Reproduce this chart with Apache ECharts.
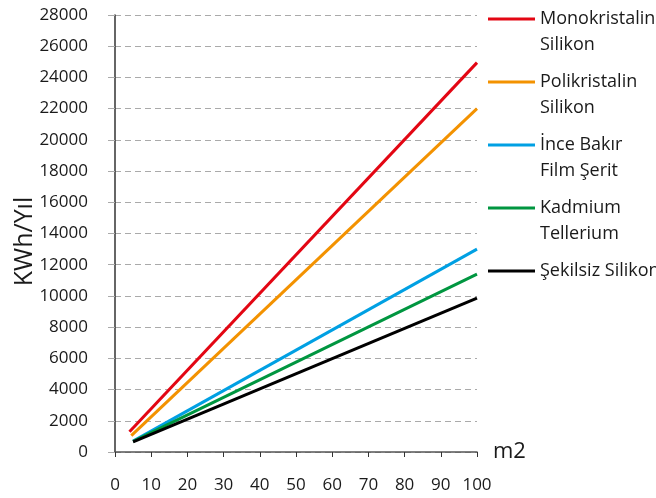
<!DOCTYPE html>
<html>
<head>
<meta charset="utf-8">
<style>
  html, body { margin: 0; padding: 0; background: #ffffff; }
  #chart { width: 656px; height: 498px; }
</style>
<script src="https://cdn.jsdelivr.net/npm/echarts@6/dist/echarts.min.js"></script>
</head>
<body>
<div id="chart"></div>
<script>
// Annual energy yield (KWh/Yıl) versus panel area (m2) for five cell technologies
const seriesNames = [
  'Monokristalin\nSilikon',
  'Polikristalin\nSilikon',
  'İnce Bakır\nFilm Şerit',
  'Kadmium\nTellerium',
  'Şekilsiz Silikon'
];
const seriesColors = ['#e30613', '#f39200', '#00a0e3', '#009640', '#000000'];

// start and end area (m2) of each line
const monoArea = [4, 100];
const poliArea = [4.5, 100];
const inceArea = [5, 100];
const kadmArea = [5, 100];
const sekilArea = [5, 100];

// yield (KWh/Yıl) at those areas
const monoYield = [1300, 24950];
const poliYield = [1050, 22000];
const inceYield = [700, 13000];
const kadmYield = [680, 11400];
const sekilYield = [650, 9860];

const xTicks = [0, 10, 20, 30, 40, 50, 60, 70, 80, 90, 100];
const yTicks = [0, 2000, 4000, 6000, 8000, 10000, 12000, 14000, 16000, 18000, 20000, 22000, 24000, 26000, 28000];

const areas = [monoArea, poliArea, inceArea, kadmArea, sekilArea];
const yields = [monoYield, poliYield, inceYield, kadmYield, sekilYield];

const FONT = '"Open Sans", "Noto Sans", sans-serif';
const TEXT = '#1a1a1a';
const LINE_H = 26;

const chart = echarts.init(document.getElementById('chart'), null, { renderer: 'canvas' });

const series = seriesNames.map((name, i) => ({
  name: name,
  type: 'line',
  symbol: 'none',
  silent: true,
  lineStyle: { color: seriesColors[i], width: 3 },
  itemStyle: { color: seriesColors[i] },
  data: areas[i].map((a, k) => [a, yields[i][k]])
}));

// Every legend entry is laid out as three text rows so that the swatch
// (centred on the block) sits beside the first visible row.
function legendText(name) {
  const rows = name.split('\n');
  if (rows.length === 1) rows.push(' ');
  return ' \n' + rows.join('\n');
}

chart.setOption({
  animation: false,
  textStyle: { fontFamily: FONT },
  grid: {
    left: 115, right: 179, top: 15, bottom: 46,
    containLabel: false,
    outerBoundsMode: 'none'
  },
  legend: {
    orient: 'vertical',
    left: 483,
    top: -25,
    itemWidth: 47,
    itemHeight: 3,
    itemGap: -15,
    icon: 'rect',
    selectedMode: false,
    formatter: legendText,
    textStyle: {
      fontFamily: FONT,
      fontSize: 18,
      color: TEXT,
      lineHeight: LINE_H
    }
  },
  xAxis: {
    type: 'value',
    min: xTicks[0],
    max: xTicks[xTicks.length - 1],
    interval: 10,
    name: 'm2',
    nameLocation: 'end',
    nameGap: 16,
    nameTextStyle: { fontFamily: FONT, fontSize: 22, color: TEXT, verticalAlign: 'middle' },
    axisLine: { show: true, onZero: false, lineStyle: { color: '#555555', width: 1.5 } },
    axisTick: { show: true, length: 5, inside: false, lineStyle: { color: '#333333', width: 1 } },
    axisLabel: { fontFamily: FONT, fontSize: 17, color: TEXT, margin: 25 },
    splitLine: { show: false }
  },
  yAxis: {
    type: 'value',
    min: yTicks[0],
    max: yTicks[yTicks.length - 1],
    interval: 2000,
    name: 'KWh/Yıl',
    nameLocation: 'middle',
    nameRotate: 90,
    nameGap: 78,
    nameMoveOverlap: false,
    nameTextStyle: {
      fontFamily: FONT, fontSize: 25, color: TEXT,
      padding: [0, 16, 0, 0]
    },
    axisLine: { show: true, lineStyle: { color: '#333333', width: 1.5 } },
    axisTick: { show: true, length: 7, lineStyle: { color: '#aaaaaa', width: 1 } },
    axisLabel: {
      fontFamily: FONT, fontSize: 17, color: TEXT, margin: 27,
      formatter: (v) => String(v)
    },
    splitLine: { show: true, lineStyle: { color: '#aaaaaa', width: 1, type: [6, 4] } }
  },
  series: series
});
</script>
</body>
</html>
